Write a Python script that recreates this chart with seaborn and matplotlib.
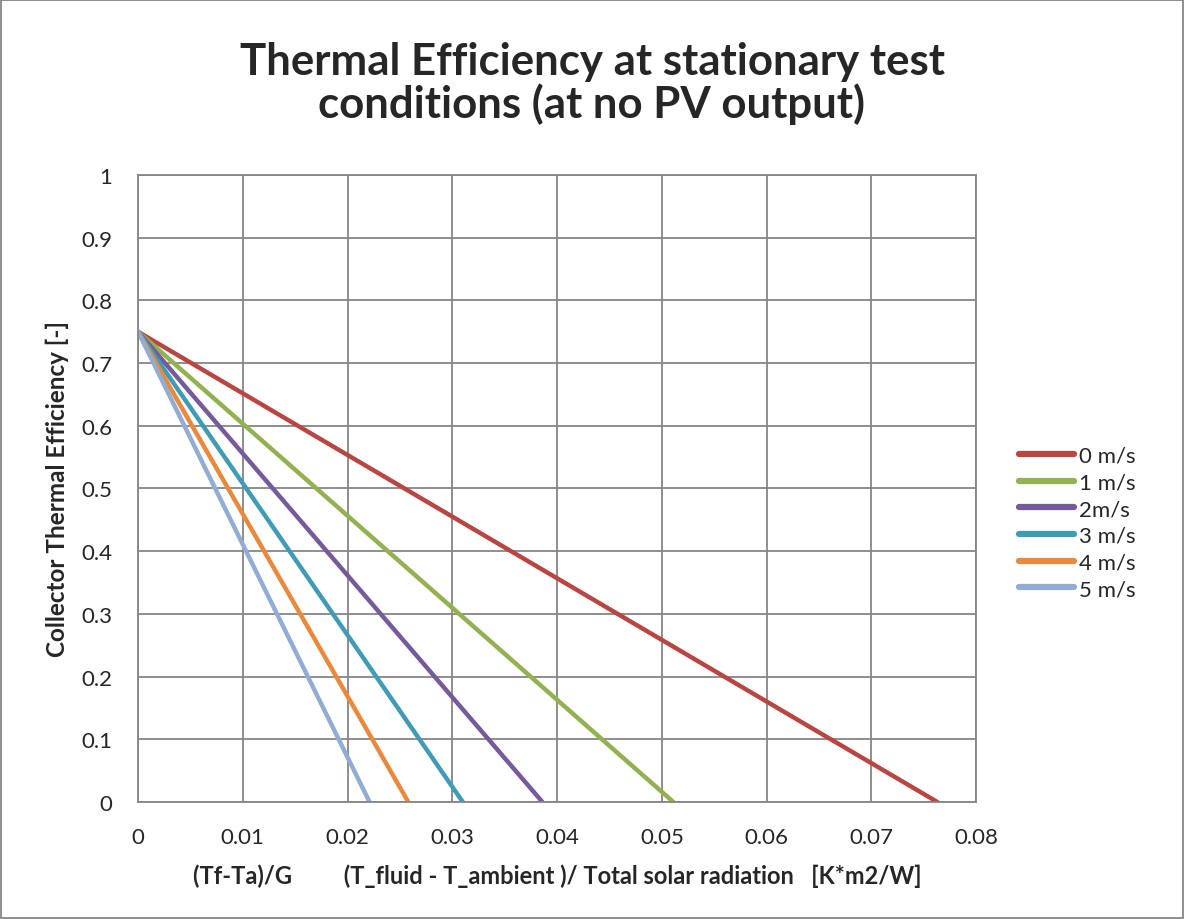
import matplotlib
matplotlib.use("Agg")
import matplotlib.pyplot as plt
import seaborn as sns
import pandas as pd
from matplotlib.patches import Rectangle

# 数据：每条线从 (0, 0.75) 到 x 轴截距
wind_labels = ['0 m/s', '1 m/s', '2m/s', '3 m/s', '4 m/s', '5 m/s']
eta_zero = [0.75, 0.75, 0.75, 0.75, 0.75, 0.75]
x_intercepts = [0.0763, 0.0511, 0.0386, 0.0310, 0.0258, 0.0221]
line_colors = ['#B84743', '#93B151', '#755B9A', '#409CB5', '#E8893D', '#92ADD3']

x_ticks = [0, 0.01, 0.02, 0.03, 0.04, 0.05, 0.06, 0.07, 0.08]
x_tick_labels = ['0', '0.01', '0.02', '0.03', '0.04', '0.05', '0.06', '0.07', '0.08']
y_ticks = [0, 0.1, 0.2, 0.3, 0.4, 0.5, 0.6, 0.7, 0.8, 0.9, 1]
y_tick_labels = ['0', '0.1', '0.2', '0.3', '0.4', '0.5', '0.6', '0.7', '0.8', '0.9', '1']

rows = []
for lab, e0, xi in zip(wind_labels, eta_zero, x_intercepts):
    rows.append({'wind': lab, 'x': 0.0, 'eta': e0})
    rows.append({'wind': lab, 'x': xi, 'eta': 0.0})
df = pd.DataFrame(rows)

sns.set_theme(style="white")
plt.rcParams['font.family'] = ['Lato', 'DejaVu Sans']

fig = plt.figure(figsize=(11.84, 9.2), dpi=100)
ax = fig.add_axes([0.1166, 0.1272, 0.7078, 0.6815])

sns.lineplot(data=df, x='x', y='eta', hue='wind', hue_order=wind_labels,
             palette=line_colors, linewidth=3.2, ax=ax, estimator=None, sort=False)

ax.set_xlim(0, 0.08)
ax.set_ylim(0, 1)
ax.set_xticks(x_ticks)
ax.set_xticklabels(x_tick_labels, fontsize=16)
ax.set_yticks(y_ticks)
ax.set_yticklabels(y_tick_labels, fontsize=16)
ax.tick_params(axis='x', pad=18, length=0)
ax.tick_params(axis='y', pad=18.5, length=0)
ax.grid(True, color='#868686', linewidth=1.3)
ax.set_axisbelow(True)
for s in ax.spines.values():
    s.set_color('#868686')
    s.set_linewidth(1.3)

ax.set_xlabel('(Tf-Ta)/G         (T_fluid - T_ambient )/ Total solar radiation   [K*m2/W]',
              fontsize=17, fontweight='bold', va='center')
ax.xaxis.set_label_coords(0.5, -0.1164)
ax.set_ylabel('Collector Thermal Efficiency [-]', fontsize=17.5, fontweight='bold', va='center')
ax.yaxis.set_label_coords(-0.0967, 0.5)

fig.text(0.5, 0.909, 'Thermal Efficiency at stationary test\nconditions (at no PV output)',
         ha='center', va='center', fontsize=31.5, fontweight='bold', linespacing=1.05)

leg = ax.legend(loc='upper left', bbox_to_anchor=(0.853, 0.524), bbox_transform=fig.transFigure,
                frameon=False, fontsize=16, handlelength=2.5, handletextpad=0.2,
                labelspacing=0.3, borderaxespad=0)
for h in leg.get_lines():
    h.set_linewidth(4.5)

fig.patches.append(Rectangle((0.001, 0.001), 0.998, 0.998, transform=fig.transFigure,
                             fill=False, edgecolor='#868686', linewidth=1.3))

fig.savefig('out.png', dpi=100)
